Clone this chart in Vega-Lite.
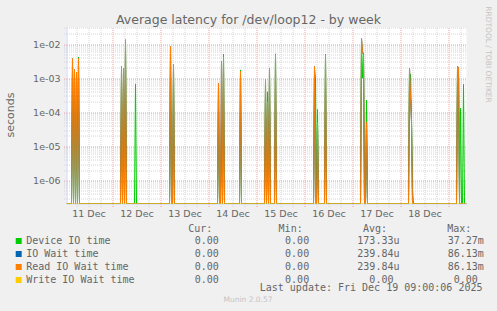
{
  "$schema": "https://vega.github.io/schema/vega-lite/v6.json",
  "width": 400,
  "height": 176,
  "autosize": {"type": "none"},
  "padding": {"left": 66.5, "top": 27.5, "right": 30.5, "bottom": 107.5},
  "background": "#f0f0f0",
  "title": {"text": "Munin 2.0.57", "orient": "bottom", "anchor": "middle", "frame": "group", "dx": -18.5, "offset": 4, "font": "DejaVu Sans", "fontSize": 7.5, "fontWeight": "normal", "color": "#c4c4c4"},
  "config": {"view": {"fill": "white", "stroke": null}},
  "data": {"values": [
    {"t":"2025-12-11T01:00:00Z","dev":0,"iowait":0,"read":0,"write":0},
    {"t":"2025-12-11T03:30:00Z","dev":0,"iowait":0,"read":0,"write":0},
    {"t":"2025-12-11T04:00:00Z","dev":0.0033,"iowait":0.0038,"read":0.0038,"write":0},
    {"t":"2025-12-11T04:30:00Z","dev":0,"iowait":0,"read":0,"write":0},
    {"t":"2025-12-11T05:00:00Z","dev":0.0016,"iowait":0.0018,"read":0.0018,"write":0},
    {"t":"2025-12-11T05:30:00Z","dev":0,"iowait":0,"read":0,"write":0},
    {"t":"2025-12-11T06:00:00Z","dev":0.0013,"iowait":0.0015,"read":0.0015,"write":0},
    {"t":"2025-12-11T06:30:00Z","dev":0,"iowait":0,"read":0,"write":0},
    {"t":"2025-12-11T07:00:00Z","dev":0.0042,"iowait":0.0038,"read":0.0038,"write":0},
    {"t":"2025-12-11T07:30:00Z","dev":0,"iowait":0,"read":0,"write":0},
    {"t":"2025-12-12T04:00:00Z","dev":0,"iowait":0,"read":0,"write":0},
    {"t":"2025-12-12T04:30:00Z","dev":0.0016,"iowait":0.0022,"read":0.0022,"write":0},
    {"t":"2025-12-12T05:00:00Z","dev":0,"iowait":0,"read":0,"write":0},
    {"t":"2025-12-12T05:30:00Z","dev":0.0006,"iowait":0.0019,"read":0.0019,"write":0},
    {"t":"2025-12-12T06:00:00Z","dev":0,"iowait":0,"read":0,"write":0},
    {"t":"2025-12-12T06:30:00Z","dev":0.011,"iowait":0.0135,"read":0.0135,"write":0},
    {"t":"2025-12-12T07:00:00Z","dev":0,"iowait":0,"read":0,"write":0},
    {"t":"2025-12-12T11:00:00Z","dev":0,"iowait":0,"read":0,"write":0},
    {"t":"2025-12-12T11:30:00Z","dev":0.00068,"iowait":0,"read":0,"write":0},
    {"t":"2025-12-12T12:00:00Z","dev":0,"iowait":0,"read":0,"write":0},
    {"t":"2025-12-13T04:30:00Z","dev":0,"iowait":0,"read":0,"write":0},
    {"t":"2025-12-13T05:00:00Z","dev":0.007,"iowait":0.0085,"read":0.0085,"write":0},
    {"t":"2025-12-13T05:30:00Z","dev":0,"iowait":0,"read":0,"write":0},
    {"t":"2025-12-13T06:00:00Z","dev":0,"iowait":0,"read":0,"write":0},
    {"t":"2025-12-13T06:30:00Z","dev":0.002,"iowait":0.0025,"read":0.0025,"write":0},
    {"t":"2025-12-13T07:00:00Z","dev":0,"iowait":0,"read":0,"write":0},
    {"t":"2025-12-14T04:30:00Z","dev":0,"iowait":0,"read":0,"write":0},
    {"t":"2025-12-14T05:00:00Z","dev":0.0006,"iowait":0.0007,"read":0.0007,"write":0},
    {"t":"2025-12-14T05:30:00Z","dev":0,"iowait":0,"read":0,"write":0},
    {"t":"2025-12-14T06:00:00Z","dev":0,"iowait":0,"read":0,"write":0},
    {"t":"2025-12-14T06:30:00Z","dev":0.00005,"iowait":0.0031,"read":0.0031,"write":0},
    {"t":"2025-12-14T07:00:00Z","dev":0,"iowait":0,"read":0,"write":0},
    {"t":"2025-12-14T07:30:00Z","dev":0.0051,"iowait":0.0043,"read":0.0043,"write":0},
    {"t":"2025-12-14T08:00:00Z","dev":0,"iowait":0,"read":0,"write":0},
    {"t":"2025-12-14T15:30:00Z","dev":0,"iowait":0,"read":0,"write":0},
    {"t":"2025-12-14T16:00:00Z","dev":0.00175,"iowait":0.0016,"read":0.0016,"write":0},
    {"t":"2025-12-14T16:30:00Z","dev":0,"iowait":0,"read":0,"write":0},
    {"t":"2025-12-15T04:00:00Z","dev":0,"iowait":0,"read":0,"write":0},
    {"t":"2025-12-15T04:30:00Z","dev":0.0007,"iowait":0.0009,"read":0.0009,"write":0},
    {"t":"2025-12-15T05:00:00Z","dev":0,"iowait":0,"read":0,"write":0},
    {"t":"2025-12-15T05:30:00Z","dev":0.0004,"iowait":0.0002,"read":0.0002,"write":0},
    {"t":"2025-12-15T06:00:00Z","dev":0,"iowait":0,"read":0,"write":0},
    {"t":"2025-12-15T06:30:00Z","dev":0.0015,"iowait":0.002,"read":0.002,"write":0},
    {"t":"2025-12-15T07:00:00Z","dev":0,"iowait":0,"read":0,"write":0},
    {"t":"2025-12-15T09:00:00Z","dev":0,"iowait":0,"read":0,"write":0},
    {"t":"2025-12-15T09:30:00Z","dev":0.0052,"iowait":0.0049,"read":0.0049,"write":0},
    {"t":"2025-12-15T10:00:00Z","dev":0,"iowait":0,"read":0,"write":0},
    {"t":"2025-12-16T04:30:00Z","dev":0,"iowait":0,"read":0,"write":0},
    {"t":"2025-12-16T05:00:00Z","dev":0.0019,"iowait":0.0022,"read":0.0022,"write":0},
    {"t":"2025-12-16T05:30:00Z","dev":0.001,"iowait":0,"read":0,"write":0},
    {"t":"2025-12-16T06:00:00Z","dev":0,"iowait":0,"read":0,"write":0},
    {"t":"2025-12-16T06:30:00Z","dev":0.00012,"iowait":0.00005,"read":0.00005,"write":0},
    {"t":"2025-12-16T07:00:00Z","dev":0,"iowait":0,"read":0,"write":0},
    {"t":"2025-12-16T10:00:00Z","dev":0,"iowait":0,"read":0,"write":0},
    {"t":"2025-12-16T10:30:00Z","dev":0.0051,"iowait":0.0048,"read":0.0048,"write":0},
    {"t":"2025-12-16T11:00:00Z","dev":0,"iowait":0,"read":0,"write":0},
    {"t":"2025-12-17T04:00:00Z","dev":0,"iowait":0,"read":0,"write":0},
    {"t":"2025-12-17T04:30:00Z","dev":0.012,"iowait":0.015,"read":0.015,"write":0},
    {"t":"2025-12-17T05:00:00Z","dev":0.001,"iowait":0.006,"read":0.006,"write":0},
    {"t":"2025-12-17T05:30:00Z","dev":0.0054,"iowait":0.005,"read":0.005,"write":0},
    {"t":"2025-12-17T06:00:00Z","dev":0,"iowait":0,"read":0,"write":0},
    {"t":"2025-12-17T06:30:00Z","dev":0,"iowait":0,"read":0,"write":0},
    {"t":"2025-12-17T07:00:00Z","dev":0.00023,"iowait":0.00005,"read":0.00005,"write":0},
    {"t":"2025-12-17T07:30:00Z","dev":0,"iowait":0,"read":0,"write":0},
    {"t":"2025-12-18T04:00:00Z","dev":0,"iowait":0,"read":0,"write":0},
    {"t":"2025-12-18T04:30:00Z","dev":0.0014,"iowait":0.002,"read":0.002,"write":0},
    {"t":"2025-12-18T05:00:00Z","dev":0.0013,"iowait":0.0003,"read":0.0003,"write":0},
    {"t":"2025-12-18T05:30:00Z","dev":0.00006,"iowait":0.00005,"read":0.00005,"write":0},
    {"t":"2025-12-18T06:00:00Z","dev":0.0000005,"iowait":0,"read":0,"write":0},
    {"t":"2025-12-18T06:30:00Z","dev":0,"iowait":0,"read":0,"write":0},
    {"t":"2025-12-19T04:00:00Z","dev":0,"iowait":0,"read":0,"write":0},
    {"t":"2025-12-19T04:30:00Z","dev":0.0015,"iowait":0.0022,"read":0.0022,"write":0},
    {"t":"2025-12-19T05:00:00Z","dev":0.0019,"iowait":0.0021,"read":0.0021,"write":0},
    {"t":"2025-12-19T05:30:00Z","dev":0,"iowait":0,"read":0,"write":0},
    {"t":"2025-12-19T06:00:00Z","dev":0.00013,"iowait":0,"read":0,"write":0},
    {"t":"2025-12-19T06:30:00Z","dev":0,"iowait":0,"read":0,"write":0},
    {"t":"2025-12-19T07:00:00Z","dev":0,"iowait":0,"read":0,"write":0},
    {"t":"2025-12-19T07:30:00Z","dev":0.00066,"iowait":0,"read":0,"write":0},
    {"t":"2025-12-19T08:00:00Z","dev":0,"iowait":0,"read":0,"write":0},
    {"t":"2025-12-19T09:00:00Z","dev":0,"iowait":0,"read":0,"write":0}
  ]},
  "transform": [{"fold": ["dev", "iowait", "read", "write"], "as": ["series", "v"]}],
  "layer": [
    {
      "mark": {"type": "line", "strokeWidth": 1, "clip": true},
      "encoding": {
        "x": {
          "field": "t", "type": "temporal",
          "scale": {"domain": [1765414800000, 1766134800000]},
          "axis": {
            "orient": "bottom",
            "values": [1765432800000, 1765454400000, 1765476000000, 1765497600000, 1765519200000, 1765540800000, 1765562400000, 1765584000000, 1765605600000, 1765627200000, 1765648800000, 1765670400000, 1765692000000, 1765713600000, 1765735200000, 1765756800000, 1765778400000, 1765800000000, 1765821600000, 1765843200000, 1765864800000, 1765886400000, 1765908000000, 1765929600000, 1765951200000, 1765972800000, 1765994400000, 1766016000000, 1766037600000, 1766059200000, 1766080800000, 1766102400000, 1766124000000],
            "labelExpr": "hours(datum.value) == 12 ? timeFormat(datum.value, '%d %b') : ''",
            "labelFont": "DejaVu Sans", "labelFontSize": 9.5, "labelColor": "#666666", "labelPadding": 2,
            "labelOverlap": false, "labelFlush": false, "labelBound": false,
            "grid": true,
            "gridColor": {"condition": {"test": "hours(datum.value) == 0", "value": "#f0a0a0"}, "value": "#d4d4d4"},
            "gridDash": [1, 1], "gridWidth": 1,
            "ticks": true, "tickSize": 3, "tickDash": [1, 1],
            "tickColor": {"condition": {"test": "hours(datum.value) == 0", "value": "#f0a0a0"}, "value": "#d4d4d4"},
            "domain": true, "domainColor": "#cfd6f8",
            "title": "Last update: Fri Dec 19 09:00:06 2025",
            "titleFont": "DejaVu Sans Mono", "titleFontSize": 10, "titleFontWeight": "normal", "titleColor": "#666666",
            "titleX": 415.5, "titleY": 86.5, "titleAlign": "right", "titleBaseline": "alphabetic"
          }
        },
        "y": {
          "field": "v", "type": "quantitative",
          "scale": {"type": "log", "domain": [2.07e-7, 0.031], "clamp": true, "nice": false},
          "axis": {
            "orient": "left",
            "values": [3e-7, 4e-7, 5e-7, 6e-7, 7e-7, 8e-7, 9e-7, 1e-6, 2e-6, 3e-6, 4e-6, 5e-6, 6e-6, 7e-6, 8e-6, 9e-6, 1e-5, 2e-5, 3e-5, 4e-5, 5e-5, 6e-5, 7e-5, 8e-5, 9e-5, 1e-4, 2e-4, 3e-4, 4e-4, 5e-4, 6e-4, 7e-4, 8e-4, 9e-4, 1e-3, 2e-3, 3e-3, 4e-3, 5e-3, 6e-3, 7e-3, 8e-3, 9e-3, 1e-2, 2e-2, 3e-2],
            "labelExpr": "abs(log(datum.value)/LN10 - round(log(datum.value)/LN10)) < 0.01 ? '1e-0' + (-round(log(datum.value)/LN10)) : ''",
            "labelFont": "DejaVu Sans", "labelFontSize": 9.5, "labelColor": "#666666", "labelPadding": 3.5,
            "labelOverlap": false, "labelFlush": false, "labelBound": false,
            "grid": true,
            "gridColor": {"condition": {"test": "abs(log(datum.value)/LN10 - round(log(datum.value)/LN10)) < 0.01", "value": "#f0a0a0"}, "value": "#d4d4d4"},
            "gridDash": [1, 1], "gridWidth": 1,
            "ticks": true, "tickSize": 3, "tickDash": [1, 1],
            "tickColor": {"condition": {"test": "abs(log(datum.value)/LN10 - round(log(datum.value)/LN10)) < 0.01", "value": "#f0a0a0"}, "value": "#d4d4d4"},
            "domain": true, "domainColor": "#cfd6f8",
            "title": "seconds",
            "titleFont": "DejaVu Sans", "titleFontSize": 11, "titleFontWeight": "normal", "titleColor": "#666666",
            "titleX": -56, "titleY": 87, "titleAngle": 270, "titleAlign": "center", "titleBaseline": "middle"
          }
        },
        "color": {
          "field": "series", "type": "nominal",
          "scale": {"domain": ["dev", "iowait", "read", "write"], "range": ["#00cc00", "#0066b3", "#ff8000", "#ffcc00"]},
          "legend": {
            "orient": "none", "legendX": -52.8, "legendY": 196.5, "direction": "vertical", "padding": 0,
            "title": "\u200b\u00a0\u00a0\u00a0\u00a0\u00a0\u00a0\u00a0\u00a0\u00a0\u00a0\u00a0\u00a0\u00a0\u00a0\u00a0\u00a0\u00a0\u00a0\u00a0\u00a0\u00a0\u00a0\u00a0\u00a0\u00a0\u00a0\u00a0\u00a0\u00a0Cur:\u00a0\u00a0\u00a0\u00a0\u00a0\u00a0\u00a0\u00a0\u00a0\u00a0\u00a0Min:\u00a0\u00a0\u00a0\u00a0\u00a0\u00a0\u00a0\u00a0\u00a0\u00a0Avg:\u00a0\u00a0\u00a0\u00a0\u00a0\u00a0\u00a0\u00a0\u00a0\u00a0Max:",
            "titleFont": "DejaVu Sans Mono", "titleFontSize": 10, "titleFontWeight": "normal", "titleColor": "#666666",
            "titleBaseline": "top", "titlePadding": 2, "titleAnchor": "start", "titleLimit": 1000,
            "labelFont": "DejaVu Sans Mono", "labelFontSize": 10, "labelColor": "#666666", "labelOffset": 2.5, "labelLimit": 1000,
            "labelExpr": "datum.label == 'dev' ? 'Device IO time\u00a0\u00a0\u00a0\u00a0\u00a0\u00a0\u00a0\u00a0\u00a0\u00a0\u00a0\u00a0\u00a0\u00a00.00\u00a0\u00a0\u00a0\u00a0\u00a0\u00a0\u00a0\u00a0\u00a0\u00a0\u00a00.00\u00a0\u00a0\u00a0\u00a0\u00a0\u00a0\u00a0\u00a0173.33u\u00a0\u00a0\u00a0\u00a0\u00a0\u00a0\u00a0\u00a037.27m' : datum.label == 'iowait' ? 'IO Wait time\u00a0\u00a0\u00a0\u00a0\u00a0\u00a0\u00a0\u00a0\u00a0\u00a0\u00a0\u00a0\u00a0\u00a0\u00a0\u00a00.00\u00a0\u00a0\u00a0\u00a0\u00a0\u00a0\u00a0\u00a0\u00a0\u00a0\u00a00.00\u00a0\u00a0\u00a0\u00a0\u00a0\u00a0\u00a0\u00a0239.84u\u00a0\u00a0\u00a0\u00a0\u00a0\u00a0\u00a0\u00a086.13m' : datum.label == 'read' ? 'Read IO Wait time\u00a0\u00a0\u00a0\u00a0\u00a0\u00a0\u00a0\u00a0\u00a0\u00a0\u00a00.00\u00a0\u00a0\u00a0\u00a0\u00a0\u00a0\u00a0\u00a0\u00a0\u00a0\u00a00.00\u00a0\u00a0\u00a0\u00a0\u00a0\u00a0\u00a0\u00a0239.84u\u00a0\u00a0\u00a0\u00a0\u00a0\u00a0\u00a0\u00a086.13m' : 'Write IO Wait time\u00a0\u00a0\u00a0\u00a0\u00a0\u00a0\u00a0\u00a0\u00a0\u00a00.00\u00a0\u00a0\u00a0\u00a0\u00a0\u00a0\u00a0\u00a0\u00a0\u00a0\u00a00.00\u00a0\u00a0\u00a0\u00a0\u00a0\u00a0\u00a0\u00a0\u00a0\u00a00.00\u00a0\u00a0\u00a0\u00a0\u00a0\u00a0\u00a0\u00a0\u00a0\u00a00.00'",
            "symbolType": "square", "symbolSize": 9, "symbolStrokeWidth": 3, "symbolOpacity": 1, "rowPadding": -5
          }
        }
      }
    },
    {
      "mark": {"type": "point", "opacity": 0},
      "encoding": {
        "x": {
          "field": "t", "type": "temporal",
          "axis": {
            "orient": "top", "domain": false, "ticks": false, "labels": false, "grid": false,
            "title": "Average latency for /dev/loop12 - by week",
            "titleFont": "DejaVu Sans", "titleFontSize": 12.5, "titleFontWeight": "normal", "titleColor": "#666666",
            "titleX": 181.5, "titleY": -4.5, "titleAlign": "center", "titleBaseline": "alphabetic"
          }
        },
        "y": {
          "field": "v", "type": "quantitative",
          "axis": {
            "orient": "right", "domain": false, "ticks": false, "labels": false, "grid": false,
            "title": "RRDTOOL / TOBI OETIKER",
            "titleFont": "DejaVu Sans", "titleFontSize": 7.5, "titleFontWeight": "normal", "titleColor": "#c4c4c4",
            "titleX": 20.5, "titleY": 26.5, "titleAngle": 90, "titleAlign": "center", "titleBaseline": "middle"
          }
        }
      }
    }
  ],
  "resolve": {"axis": {"x": "independent", "y": "independent"}}
}
